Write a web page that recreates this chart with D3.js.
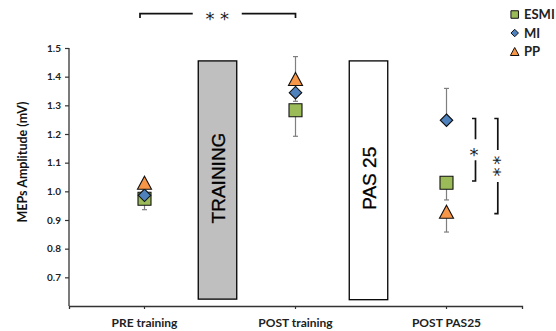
<!DOCTYPE html>
<html>
<head>
<meta charset="utf-8">
<script src="https://cdn.jsdelivr.net/npm/d3@7"></script>
<style>
  html, body { margin: 0; padding: 0; background: #fff; }
  svg { display: block; }
</style>
</head>
<body>
<svg id="chart" width="556" height="331"></svg>
<script>
// Time points along the x axis
const categories = ["PRE training", "POST training", "POST PAS25"];
const seriesNames = ["ESMI", "MI", "PP"];

// Mean MEP amplitude (mV) per condition
const esmiValues = [0.974, 1.283, 1.030];
const miValues   = [0.986, 1.344, 1.248];
const ppValues   = [1.030, 1.392, 0.929];

// Error bar extents (upper / lower) per condition
const esmiErrUp   = [0, 0, 0];
const esmiErrDown = [0.038, 0.091, 0.060];
const miErrUp     = [0, 0, 0.111];
const miErrDown   = [0, 0, 0];
const ppErrUp     = [0, 0.078, 0];
const ppErrDown   = [0, 0.078, 0.071];

const yTicks = [0.7, 0.8, 0.9, 1.0, 1.1, 1.2, 1.3, 1.4, 1.5];

// Intervention blocks placed between time points
const blockLabels = ["TRAINING", "PAS 25"];
const blockAfter  = ["PRE training", "POST training"];
const blockTop    = [1.455, 1.455];
const blockBottom = [0.624, 0.622];
const blockFills  = ["#bfbfbf", "#ffffff"];

// Significance annotations
const topBracketLabel = "* *";
const topBracketLevel = 1.62;
const sideBrackets = [
  { label: "*",  top: 1.254, bottom: 1.036 },
  { label: "**", top: 1.254, bottom: 0.922 }
];

const colors = { ESMI: "#9bbb59", MI: "#4f81bd", PP: "#f79646" };

const svg = d3.select("#chart");
const plotLeft = 69, plotRight = 522, plotTop = 48, plotBottom = 306;

const x = d3.scaleBand().domain(categories).range([plotLeft, plotRight]).paddingInner(0).paddingOuter(0);
const xc = c => x(c) + x.bandwidth() / 2;
const y = d3.scaleLinear().domain([0.6, 1.5]).range([plotBottom, plotTop]);

const fontBold = "Lato, 'Open Sans', sans-serif";

// Intervention blocks
blockLabels.forEach((lab, i) => {
  const cx = x(blockAfter[i]) + x.bandwidth() - 2.5;
  const w = 38.5;
  svg.append("rect")
    .attr("x", cx - w / 2).attr("y", y(blockTop[i]))
    .attr("width", w).attr("height", y(blockBottom[i]) - y(blockTop[i]))
    .attr("fill", blockFills[i]).attr("stroke", "#000").attr("stroke-width", 1.3);
  const cy = (y(blockTop[i]) + y(blockBottom[i])) / 2;
  svg.append("text")
    .attr("transform", `translate(${cx + 7},${cy - 2}) rotate(-90)`)
    .attr("text-anchor", "middle")
    .attr("font-family", "'Liberation Sans', Arial, sans-serif")
    .attr("font-size", 19)
    .attr("fill", "#000")
    .attr("stroke", "#000").attr("stroke-width", 0.3)
    .text(lab);
});

// Axes
const yAxis = d3.axisLeft(y).tickValues(yTicks).tickFormat(d3.format(".1f")).tickSize(4).tickSizeOuter(0);
const gy = svg.append("g").attr("transform", `translate(${plotLeft},0)`).call(yAxis);
gy.select(".domain").remove();
gy.append("line").attr("x1", 0).attr("x2", 0).attr("y1", plotTop).attr("y2", plotBottom)
  .attr("stroke", "#333").attr("stroke-width", 1.3);
gy.selectAll(".tick line").attr("stroke", "#333").attr("stroke-width", 1.2);
gy.selectAll(".tick text")
  .attr("font-family", fontBold).attr("font-weight", "bold").attr("font-size", 10)
  .attr("fill", "#222").attr("x", -8);

const xAxis = d3.axisBottom(x).tickSize(3).tickSizeOuter(3);
const gx = svg.append("g").attr("transform", `translate(0,${plotBottom})`).call(xAxis);
gx.select(".domain").attr("stroke", "#333").attr("stroke-width", 1.3);
gx.selectAll(".tick line").attr("stroke", "#333").attr("stroke-width", 1.2);
gx.selectAll(".tick text")
  .attr("font-family", fontBold).attr("font-weight", "bold").attr("font-size", 12)
  .attr("fill", "#222").attr("y", 12);

// Y axis title
svg.append("text")
  .attr("transform", `translate(27,${(plotTop + plotBottom) / 2 - 15}) rotate(-90)`)
  .attr("text-anchor", "middle")
  .attr("font-family", fontBold).attr("font-weight", "bold").attr("font-size", 12.5)
  .attr("fill", "#111")
  .text("MEPs Amplitude (mV)");

// Series
const series = [
  { name: "ESMI", values: esmiValues, up: esmiErrUp, down: esmiErrDown },
  { name: "MI",   values: miValues,   up: miErrUp,   down: miErrDown },
  { name: "PP",   values: ppValues,   up: ppErrUp,   down: ppErrDown }
];

// Error bars
const gErr = svg.append("g").attr("stroke", "#7f7f7f").attr("stroke-width", 1.2);
series.forEach(s => {
  categories.forEach((c, i) => {
    const v = s.values[i];
    const cx = xc(c);
    [[s.up[i], 1], [s.down[i], -1]].forEach(([e, sign]) => {
      if (!e) return;
      const yEnd = y(v + sign * e);
      gErr.append("line").attr("x1", cx).attr("x2", cx).attr("y1", y(v)).attr("y2", yEnd);
      gErr.append("line").attr("x1", cx - 2.5).attr("x2", cx + 2.5).attr("y1", yEnd).attr("y2", yEnd);
    });
  });
});

// Marker shapes
function markerPath(name, size) {
  const h = size / 2;
  if (name === "ESMI") return `M${-h},${-h}H${h}V${h}H${-h}Z`;
  if (name === "MI") return `M0,${-h}L${h},0L0,${h}L${-h},0Z`;
  const w = size * 1.08 / 2;
  return `M0,${-h}L${w},${h}L${-w},${h}Z`;
}
const markerSize = { ESMI: 13, MI: 12.5, PP: 13 };

series.forEach(s => {
  svg.append("g").selectAll("path")
    .data(categories.map((c, i) => ({ c, v: s.values[i] })))
    .join("path")
    .attr("transform", d => `translate(${xc(d.c)},${y(d.v)})`)
    .attr("d", markerPath(s.name, markerSize[s.name]))
    .attr("fill", colors[s.name])
    .attr("stroke", "#111").attr("stroke-width", 1.1);
});

// Legend
const legend = svg.append("g");
seriesNames.forEach((n, i) => {
  const cy = 14.5 + i * 18.5;
  legend.append("path")
    .attr("transform", `translate(514.7,${cy})`)
    .attr("d", markerPath(n, n === "PP" ? 8 : 7.5))
    .attr("fill", colors[n]).attr("stroke", "#111").attr("stroke-width", 1);
  legend.append("text")
    .attr("x", 524).attr("y", cy + 4.5)
    .attr("font-family", fontBold).attr("font-weight", "bold").attr("font-size", 13)
    .attr("fill", "#222").text(n);
});

// Asterisk labels, centred on (cx, cy); vertical ones run top to bottom
const starFont = "'DejaVu Sans', sans-serif";
const starSize = 18;
function stars(g, cx, cy, txt, vertical) {
  const t = g.append("text")
    .attr("text-anchor", "middle")
    .attr("font-family", starFont).attr("font-size", starSize).attr("fill", "#222")
    .text(txt);
  if (vertical) {
    t.attr("transform", `translate(${cx},${cy}) rotate(90)`)
      .attr("x", 0).attr("y", starSize * 0.57)
      .attr("letter-spacing", 2.7);
  } else {
    t.attr("x", cx).attr("y", cy + starSize * 0.57);
  }
}

// Top bracket between PRE and POST training
const ann = svg.append("g");
const by = y(topBracketLevel);
const bx1 = xc(categories[0]) - 4.5, bx2 = xc(categories[1]);
const bmid = (bx1 + bx2) / 2 + 1;
const lineStyle = sel => sel.attr("stroke", "#111").attr("stroke-width", 1.7).attr("fill", "none");
ann.append("path").call(lineStyle)
  .attr("d", `M${bx1},${by + 4.5}V${by}H${bmid - 26}`);
ann.append("path").call(lineStyle)
  .attr("d", `M${bmid + 23},${by}H${bx2}V${by + 4.5}`);
stars(ann, bmid - 1.5, by + 1.5, topBracketLabel, false);

// Side brackets at POST PAS25
const pasX = xc(categories[2]);
const offsets = [29, 51.3];
sideBrackets.forEach((b, i) => {
  const bx = pasX + offsets[i];
  const y1 = y(b.top), y2 = y(b.bottom);
  const mid = (y1 + y2) / 2;
  const gap = b.label.length === 1 ? 10.5 : 16;
  ann.append("path").call(lineStyle)
    .attr("d", `M${bx - 3.5},${y1}H${bx}V${mid - gap}`);
  ann.append("path").call(lineStyle)
    .attr("d", `M${bx},${mid + gap}V${y2}H${bx - 3.5}`);
  if (b.label.length === 1) {
    stars(ann, bx - 1.5, mid + 1, b.label, false);
  } else {
    stars(ann, bx, mid + 1.3, b.label, true);
  }
});
</script>
</body>
</html>
